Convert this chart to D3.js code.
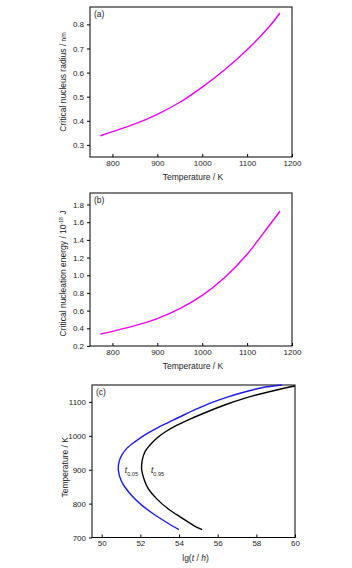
<!DOCTYPE html>
<html>
<head>
<meta charset="utf-8">
<script src="https://cdn.jsdelivr.net/npm/d3@7"></script>
<style>
  body { margin: 0; background: #fff; }
  svg { display: block; }
  .tick text { font-family: "Liberation Sans Narrow", "Liberation Sans", Arial, sans-serif; font-size: 8px; fill: #222; }
  .title { font-family: "Liberation Sans", Arial, sans-serif; font-size: 8.5px; fill: #222; }
</style>
</head>
<body>
<div id="chart"></div>
<script>
// (a) critical nucleus radius vs temperature
const tempA = [773, 800, 850, 900, 950, 1000, 1050, 1100, 1150, 1173]
const radius = [0.338, 0.355, 0.387, 0.427, 0.477, 0.540, 0.612, 0.695, 0.792, 0.847]

// (b) critical nucleation energy vs temperature
const tempB = [773, 800, 850, 900, 950, 1000, 1050, 1100, 1150, 1173]
const energy = [0.336, 0.366, 0.430, 0.510, 0.622, 0.772, 0.975, 1.238, 1.568, 1.724]

// (c) TTT curves: lg(t/h) vs temperature
const temp005 = [723, 745, 768, 794, 824, 849, 869, 900, 923, 943, 963, 983, 1003, 1023, 1040, 1060, 1080, 1100, 1115, 1130, 1142, 1150]
const lg005 = [54.0, 53.35, 52.72, 52.1, 51.55, 51.2, 51.0, 50.86, 50.9, 51.04, 51.3, 51.73, 52.24, 52.86, 53.47, 54.19, 54.95, 55.79, 56.54, 57.44, 58.28, 59.32]
const temp095 = [723, 733, 758, 784, 814, 844, 869, 900, 928, 953, 973, 993, 1012, 1030, 1050, 1074, 1094, 1109, 1122, 1136, 1147]
const lg095 = [55.2, 54.83, 54.14, 53.45, 52.85, 52.41, 52.21, 52.07, 52.1, 52.24, 52.5, 52.85, 53.3, 53.85, 54.6, 55.6, 56.5, 57.3, 58.1, 59.1, 60.0]

const ticksTemp = [800, 900, 1000, 1100, 1200]
const ticksRadius = [0.3, 0.4, 0.5, 0.6, 0.7, 0.8]
const ticksEnergy = [0.2, 0.4, 0.6, 0.8, 1.0, 1.2, 1.4, 1.6, 1.8]
const ticksLg = [50, 52, 54, 56, 58, 60]
const ticksTempC = [700, 800, 900, 1000, 1100]

const W = 352
const H = 568

const svg = d3.select('#chart').append('svg')
  .attr('width', W)
  .attr('height', H)

function panel (opt) {
  const x = d3.scaleLinear().domain(opt.xDomain).range([opt.left, opt.right])
  const y = d3.scaleLinear().domain(opt.yDomain).range([opt.bottom, opt.top])
  const g = svg.append('g')

  // x axis, ticks pointing inward
  g.append('g')
    .attr('transform', `translate(0,${opt.bottom})`)
    .call(d3.axisBottom(x).tickValues(opt.xTicks).tickSize(-3).tickPadding(3).tickFormat(opt.xFormat || d3.format('d')))
    .call(a => a.select('.domain').remove())

  // y axis, ticks pointing outward
  g.append('g')
    .attr('transform', `translate(${opt.left},0)`)
    .call(d3.axisLeft(y).tickValues(opt.yTicks).tickSize(3).tickPadding(3).tickFormat(opt.yFormat || d3.format('d')))
    .call(a => a.select('.domain').remove())

  // frame
  g.append('rect')
    .attr('x', opt.left)
    .attr('y', opt.top)
    .attr('width', opt.right - opt.left)
    .attr('height', opt.bottom - opt.top)
    .attr('fill', 'none')
    .attr('stroke', '#000')
    .attr('stroke-width', 1)

  const clipId = 'clip-' + opt.name
  svg.append('clipPath').attr('id', clipId)
    .append('rect')
    .attr('x', opt.left).attr('y', opt.top - 1)
    .attr('width', opt.right - opt.left + 1).attr('height', opt.bottom - opt.top + 1)

  opt.series.forEach(s => {
    const pts = s.xs.map((v, i) => [v, s.ys[i]])
    g.append('path')
      .datum(pts)
      .attr('clip-path', `url(#${clipId})`)
      .attr('fill', 'none')
      .attr('stroke', s.color)
      .attr('stroke-width', 1.4)
      .attr('d', d3.line().x(d => x(d[0])).y(d => y(d[1])).curve(d3.curveCatmullRom.alpha(0.5)))
  })

  // panel letter
  g.append('text')
    .attr('class', 'title')
    .attr('x', opt.left + 4)
    .attr('y', opt.top + 10)
    .text(opt.letter)

  // x title
  const xt = g.append('text')
    .attr('class', 'title')
    .attr('text-anchor', 'middle')
    .attr('x', (opt.left + opt.right) / 2 + 2)
    .attr('y', opt.bottom + 23)
  opt.xTitle(xt)

  // y title
  const yt = g.append('text')
    .attr('class', 'title')
    .attr('text-anchor', 'middle')
    .attr('transform', `translate(${opt.left - 24},${(opt.top + opt.bottom) / 2 + opt.yShift}) rotate(-90)`)
  opt.yTitle(yt)

  return { x, y, g }
}

panel({
  name: 'a',
  letter: '(a)',
  left: 90, right: 292, top: 7, bottom: 157,
  xDomain: [750, 1200], yDomain: [0.25, 0.872],
  xTicks: ticksTemp, yTicks: ticksRadius,
  yFormat: d3.format('.1f'),
  yShift: 0,
  series: [{ xs: tempA, ys: radius, color: '#ee00ee' }],
  xTitle: t => t.text('Temperature / K'),
  yTitle: t => {
    t.append('tspan').text('Critical nucleus radius / ')
    t.append('tspan').attr('font-size', '6.5px').text('nm')
  }
})

panel({
  name: 'b',
  letter: '(b)',
  left: 90, right: 292, top: 193, bottom: 346,
  xDomain: [750, 1200], yDomain: [0.2, 1.93],
  xTicks: ticksTemp, yTicks: ticksEnergy,
  yFormat: d3.format('.1f'),
  yShift: 4,
  series: [{ xs: tempB, ys: energy, color: '#ee00ee' }],
  xTitle: t => t.text('Temperature / K'),
  yTitle: t => {
    t.append('tspan').text('Critical nucleation energy / 10')
    t.append('tspan').attr('font-size', '5px').attr('dy', '-3').text('-18')
    t.append('tspan').attr('dy', '3').text(' J')
  }
})

const c = panel({
  name: 'c',
  letter: '(c)',
  left: 92, right: 295, top: 385, bottom: 537.5,
  xDomain: [49.5, 60], yDomain: [700, 1150],
  xTicks: ticksLg, yTicks: ticksTempC,
  yShift: 6,
  series: [
    { xs: lg005, ys: temp005, color: '#1a1ae6' },
    { xs: lg095, ys: temp095, color: '#000' }
  ],
  xTitle: t => {
    t.append('tspan').text('lg(')
    t.append('tspan').attr('font-style', 'italic').text('t')
    t.append('tspan').text(' / ')
    t.append('tspan').attr('font-style', 'italic').text('h')
    t.append('tspan').text(')')
  },
  yTitle: t => t.text('Temperature / K')
})

// curve labels
const curveLabels = [
  { lg: 51.2, temp: 900, sub: '0.05' },
  { lg: 52.55, temp: 900, sub: '0.95' }
]
curveLabels.forEach(d => {
  const t = c.g.append('text')
    .attr('class', 'title')
    .attr('x', c.x(d.lg))
    .attr('y', c.y(d.temp) + 3)
  t.append('tspan').attr('font-style', 'italic').text('t')
  t.append('tspan').attr('font-size', '5.5px').attr('dy', '3').text(d.sub)
})
</script>
</body>
</html>
